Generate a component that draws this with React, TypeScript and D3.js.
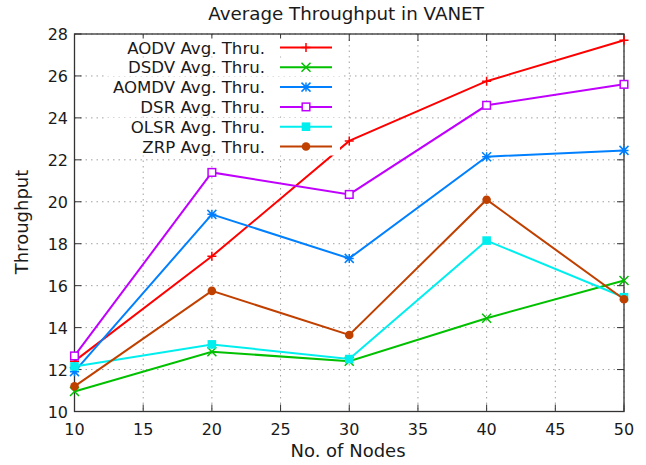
import React from "react";
import * as d3 from "d3";

// x values (number of nodes)
const nodes = [10, 20, 30, 40, 50];

// throughput per protocol
const aodv = [12.4, 17.4, 22.9, 25.75, 27.7];
const dsdv = [10.95, 12.85, 12.4, 14.45, 16.25];
const aomdv = [11.9, 19.4, 17.3, 22.15, 22.45];
const dsr = [12.65, 21.4, 20.35, 24.6, 25.6];
const olsr = [12.15, 13.2, 12.5, 18.15, 15.45];
const zrp = [11.2, 15.75, 13.65, 20.1, 15.35];

const xTicks = [10, 15, 20, 25, 30, 35, 40, 45, 50];
const yTicks = [10, 12, 14, 16, 18, 20, 22, 24, 26, 28];

const series = [
  { name: "AODV Avg. Thru.", values: aodv, color: "#ff0000", marker: "plus" },
  { name: "DSDV Avg. Thru.", values: dsdv, color: "#00c000", marker: "cross" },
  { name: "AOMDV Avg. Thru.", values: aomdv, color: "#0080ff", marker: "star" },
  { name: "DSR Avg. Thru.", values: dsr, color: "#c000ff", marker: "box" },
  { name: "OLSR Avg. Thru.", values: olsr, color: "#00eeee", marker: "fbox" },
  { name: "ZRP Avg. Thru.", values: zrp, color: "#c04000", marker: "fcircle" },
];

const W = 646;
const H = 465;
const left = 74.5;
const right = 624;
const top = 34;
const bottom = 411.5;
const font = "'DejaVu Sans', sans-serif";

function Marker({ type, x, y, color }: { type: string; x: number; y: number; color: string }) {
  const s = 4.5;
  const sw = 1.5;
  if (type === "plus")
    return <path d={`M${x - s},${y}H${x + s}M${x},${y - s}V${y + s}`} stroke={color} strokeWidth={sw} />;
  if (type === "cross")
    return <path d={`M${x - s},${y - s}L${x + s},${y + s}M${x - s},${y + s}L${x + s},${y - s}`} stroke={color} strokeWidth={sw} />;
  if (type === "star")
    return (
      <path
        d={`M${x - s},${y}H${x + s}M${x},${y - s}V${y + s}M${x - s},${y - s}L${x + s},${y + s}M${x - s},${y + s}L${x + s},${y - s}`}
        stroke={color}
        strokeWidth={sw}
      />
    );
  if (type === "box")
    return <rect x={x - 3.8} y={y - 3.8} width={7.6} height={7.6} fill="white" stroke={color} strokeWidth={sw} />;
  if (type === "fbox") return <rect x={x - 4.3} y={y - 4.3} width={8.6} height={8.6} fill={color} />;
  return <circle cx={x} cy={y} r={4.3} fill={color} />;
}

export default function App() {
  const xScale = d3.scaleLinear().domain([10, 50]).range([left, right]);
  const yScale = d3.scaleLinear().domain([10, 28]).range([bottom, top]);
  const line = d3
    .line<number>()
    .x((_, i) => xScale(nodes[i]))
    .y((d) => yScale(d));

  const legendX = 265;
  const legendY0 = 47.5;
  const legendDy = 19.8;

  return (
    <svg width={W} height={H} style={{ position: "absolute", left: 0, top: 0, background: "white" }}>
      <rect width={W} height={H} fill="white" />
      {/* grid */}
      {xTicks.map((t) => (
        <line key={"gx" + t} x1={xScale(t)} x2={xScale(t)} y1={top} y2={bottom} stroke="#a0a0a0" strokeWidth={1} strokeDasharray="1.5,4" />
      ))}
      {yTicks.map((t) => (
        <line key={"gy" + t} x1={left} x2={right} y1={yScale(t)} y2={yScale(t)} stroke="#a0a0a0" strokeWidth={1} strokeDasharray="1.5,4" />
      ))}
      {/* ticks, mirrored */}
      {xTicks.map((t) => (
        <g key={"tx" + t}>
          <line x1={xScale(t)} x2={xScale(t)} y1={bottom} y2={bottom - 7} stroke="#333" />
          <line x1={xScale(t)} x2={xScale(t)} y1={top} y2={top + 7} stroke="#333" />
          <text x={xScale(t)} y={bottom + 23} textAnchor="middle" fontFamily={font} fontSize={16} fill="#1a1a1a">
            {t}
          </text>
        </g>
      ))}
      {yTicks.map((t) => (
        <g key={"ty" + t}>
          <line x1={left} x2={left + 7} y1={yScale(t)} y2={yScale(t)} stroke="#333" />
          <line x1={right} x2={right - 7} y1={yScale(t)} y2={yScale(t)} stroke="#333" />
          <text x={68} y={yScale(t) + 6} textAnchor="end" fontFamily={font} fontSize={16} fill="#1a1a1a">
            {t}
          </text>
        </g>
      ))}
      <rect x={left} y={top} width={right - left} height={bottom - top} fill="none" stroke="#333" strokeWidth={1.3} />

      {/* lines */}
      {series.map((s) => (
        <g key={s.name}>
          <path d={line(s.values) || ""} fill="none" stroke={s.color} strokeWidth={2} />
          {s.values.map((v, i) => (
            <Marker key={i} type={s.marker} x={xScale(nodes[i])} y={yScale(v)} color={s.color} />
          ))}
        </g>
      ))}

      {/* legend */}
      {series.map((s, i) => {
        const y = legendY0 + i * legendDy;
        return (
          <g key={"lg" + s.name}>
            <rect x={105} y={y - 9} width={235} height={18} fill="white" />
            <text x={legendX} y={y + 6} textAnchor="end" fontFamily={font} fontSize={16.6} fill="#1a1a1a">
              {s.name}
            </text>
            <line x1={280} x2={332} y1={y} y2={y} stroke={s.color} strokeWidth={2} />
            <Marker type={s.marker} x={306} y={y} color={s.color} />
          </g>
        );
      })}

      {/* titles */}
      <text x={346} y={20} textAnchor="middle" fontFamily={font} fontSize={18.3} fill="#1a1a1a">
        Average Throughput in VANET
      </text>
      <text x={348} y={457} textAnchor="middle" fontFamily={font} fontSize={18} fill="#1a1a1a">
        No. of Nodes
      </text>
      <text transform="translate(28,222) rotate(-90)" textAnchor="middle" fontFamily={font} fontSize={18} fill="#1a1a1a">
        Throughput
      </text>
    </svg>
  );
}
